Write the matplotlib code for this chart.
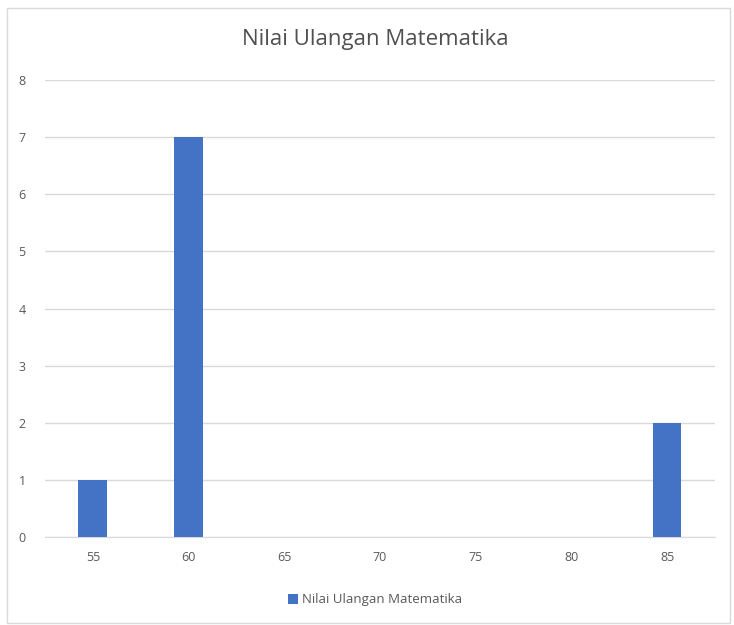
import matplotlib.pyplot as plt
from matplotlib.patches import Rectangle

nilai = ['55', '60', '65', '70', '75', '80', '85']
jumlah = [1, 7, 0, 0, 0, 0, 2]
judul = 'Nilai Ulangan Matematika'

plt.rcParams['font.family'] = ['Open Sans', 'DejaVu Sans']

fig = plt.figure(figsize=(7.34, 6.25), dpi=100)
ax = fig.add_axes([0.0613, 0.1408, 0.9127, 0.7312])

ax.bar(nilai, jumlah, width=0.3, color='#4472C4', label=judul, zorder=3)

ax.set_ylim(0, 8)
ax.set_xlim(-0.5, len(nilai) - 0.5)
ax.set_yticks(range(0, 9))
ax.grid(axis='y', color='#d9d9d9', linewidth=1, zorder=0)
for s in ['top', 'right', 'left']:
    ax.spines[s].set_visible(False)
ax.spines['bottom'].set_color('#d9d9d9')
ax.tick_params(length=0, colors='#595959', labelsize=9)
ax.tick_params(axis='x', pad=10)
ax.tick_params(axis='y', pad=14)

fig.text(0.511, 0.936, judul, ha='center', va='center', fontsize=16, color='#505050')

fig.legend(loc='center', bbox_to_anchor=(0.511, 0.04), frameon=False,
           fontsize=9.5, labelcolor='#595959', handlelength=0.7, handleheight=0.7,
           handletextpad=0.3)

# chart border
fig.patches.append(Rectangle((0.009, 0.004), 0.985, 0.983, transform=fig.transFigure,
                             fill=False, edgecolor='#d9d9d9', linewidth=1))

fig.savefig('out.png', dpi=100)
